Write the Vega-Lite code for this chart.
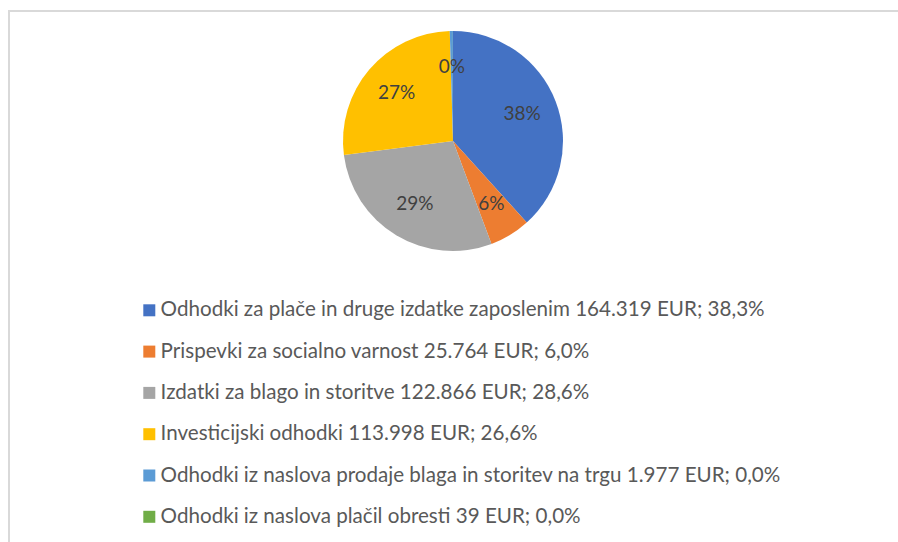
{
  "$schema": "https://vega.github.io/schema/vega-lite/v6.json",
  "padding": {"left": 7, "top": 9, "right": 0, "bottom": 0},
  "background": "white",
  "spacing": 0,
  "bounds": "flush",
  "config": {
    "font": "Lato",
    "concat": {"spacing": 0}
  },
  "vconcat": [
    {
      "width": 888,
      "height": 260,
      "view": {"stroke": "#d9d9d9", "strokeWidth": 2, "strokeCap": "square", "strokeDash": [888, 1148, 262, 0]},
      "data": {
        "values": [
          {"kategorija": "Odhodki za plače in druge izdatke zaposlenim 164.319 EUR; 38,3%", "znesek": 164319, "oznaka": "38%", "vrstni_red": 1},
          {"kategorija": "Prispevki za socialno varnost 25.764 EUR; 6,0%", "znesek": 25764, "oznaka": "6%", "vrstni_red": 2},
          {"kategorija": "Izdatki za blago in storitve 122.866 EUR; 28,6%", "znesek": 122866, "oznaka": "29%", "vrstni_red": 3},
          {"kategorija": "Investicijski odhodki 113.998 EUR; 26,6%", "znesek": 113998, "oznaka": "27%", "vrstni_red": 4},
          {"kategorija": "Odhodki iz naslova prodaje blaga in storitev na trgu 1.977 EUR; 0,0%", "znesek": 1977, "oznaka": "0%", "vrstni_red": 5},
          {"kategorija": "Odhodki iz naslova plačil obresti 39 EUR; 0,0%", "znesek": 39, "oznaka": "", "vrstni_red": 6}
        ]
      },
      "encoding": {
        "theta": {"field": "znesek", "type": "quantitative", "stack": true},
        "order": {"field": "vrstni_red", "type": "quantitative"},
        "color": {
          "field": "kategorija",
          "type": "nominal",
          "sort": null,
          "scale": {
            "domain": [
              "Odhodki za plače in druge izdatke zaposlenim 164.319 EUR; 38,3%",
              "Prispevki za socialno varnost 25.764 EUR; 6,0%",
              "Izdatki za blago in storitve 122.866 EUR; 28,6%",
              "Investicijski odhodki 113.998 EUR; 26,6%",
              "Odhodki iz naslova prodaje blaga in storitev na trgu 1.977 EUR; 0,0%",
              "Odhodki iz naslova plačil obresti 39 EUR; 0,0%"
            ],
            "range": ["#4472C4", "#ED7D31", "#A5A5A5", "#FFC000", "#5B9BD5", "#70AD47"]
          },
          "legend": {
            "title": null,
            "orient": "none",
            "legendX": 130,
            "legendY": 289,
            "direction": "vertical",
            "symbolType": "square",
            "symbolSize": 144,
            "symbolStrokeWidth": 0,
            "labelFont": "Lato",
            "labelFontSize": 20.6,
            "labelColor": "#595959",
            "labelOffset": 1,
            "labelLimit": 0,
            "rowPadding": 20.3,
            "padding": 0
          }
        }
      },
      "layer": [
        {"mark": {"type": "arc", "outerRadius": 110}},
        {
          "mark": {"type": "text", "radius": 74, "fontSize": 19, "font": "Lato", "fill": "#404040"},
          "encoding": {
            "text": {"field": "oznaka", "type": "nominal"},
            "color": {"value": "#404040"}
          }
        }
      ]
    },
    {
      "width": 888,
      "height": 270,
      "view": {"stroke": "#d9d9d9", "strokeWidth": 2, "strokeCap": "square", "strokeDash": [0, 2046, 272, 0]},
      "data": {"values": [{"prazno": ""}]},
      "mark": {"type": "text"},
      "encoding": {"text": {"field": "prazno", "type": "nominal"}}
    }
  ]
}
